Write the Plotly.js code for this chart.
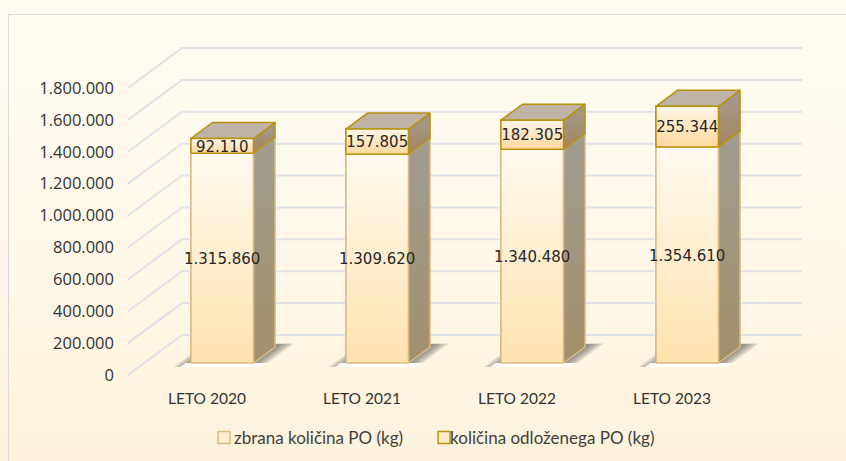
<!DOCTYPE html>
<html>
<head>
<meta charset="utf-8">
<script src="https://cdn.plot.ly/plotly-3.0.1.min.js"></script>
<style>
html,body{margin:0;padding:0;width:846px;height:461px;overflow:hidden;background:linear-gradient(180deg,#FFFBF1 0%,#FFF9EC 45%,#FEF2DC 100%);}
#frame{position:absolute;left:8px;top:14px;width:846px;height:461px;border:1.5px solid #DADBDD;box-sizing:border-box;}
#chart{position:absolute;left:0;top:0;width:846px;height:461px;}
</style>
</head>
<body>
<div id="frame"></div>
<div id="chart"></div>
<script>
const categories = ['LETO 2020','LETO 2021','LETO 2022','LETO 2023'];
const collected = [1315860,1309620,1340480,1354610];
const deposited = [92110,157805,182305,255344];
const yTicks = [0,200000,400000,600000,800000,1000000,1200000,1400000,1600000,1800000];
const collectedName = 'zbrana količina PO (kg)';
const depositedName = 'količina odloženega PO (kg)';

// pseudo-3D projection, expressed in axis units
const PX_X = 155, PX_Y = 287/1800000;
const DX = 54/PX_X, DV = 40/PX_Y;
const X = (x,z)=>x+z*DX, V=(v,z)=>v+z*DV;
const Z_F = 0.30, Z_B = 0.70, HW = 0.2016, SHIFT = -1/PX_X, LBL = -2/PX_Y;
const fmt = n=>String(n).replace(/\B(?=(\d{3})+$)/g,'.');
const idx = categories.map((_,i)=>i);

const poly = (pts,fill,grad,line,lw)=>({
  type:'scatter',mode:'lines',x:pts.map(p=>p[0]),y:pts.map(p=>p[1]),
  fill:'toself',fillcolor:fill||'rgba(0,0,0,0)',
  fillgradient:grad||undefined,
  line:{color:line||'rgba(0,0,0,0)',width:lw||0},
  hoverinfo:'skip',showlegend:false
});
const vgrad=(top,bot)=>({type:'vertical',colorscale:[[0,bot],[1,top]]});
const traces=[];

// real bars (data + legend)
traces.push({type:'bar',name:collectedName,x:idx.map(i=>X(i+SHIFT,Z_F)),y:collected,base:idx.map(()=>V(0,Z_F)),width:2*HW,
  marker:{color:'#FFEFD2',line:{color:'#DDBA84',width:1.5}},hoverinfo:'skip'});
traces.push({type:'bar',name:depositedName,x:idx.map(i=>X(i+SHIFT,Z_F)),y:deposited,base:collected.map(c=>V(c,Z_F)),width:2*HW,
  marker:{color:'#FFEBC8',line:{color:'#B8920F',width:1.5}},hoverinfo:'skip'});

// gridlines on side and back wall
const gx=[],gy=[];
yTicks.forEach(t=>{gx.push(X(-0.51,0),X(-0.51,1),X(3.49,1),null);gy.push(V(t,0),V(t,1),V(t,1),null);});
traces.push({type:'scatter',mode:'lines',x:gx,y:gy,line:{color:'#DFE1E6',width:2},hoverinfo:'skip',showlegend:false});

idx.forEach(i=>{
  const c=collected[i],d=deposited[i],t=c+d;
  const xl=i+SHIFT-HW,xr=i+SHIFT+HW;
  // floor shadow: soft edge built from stacked translucent layers
  const sl=i-0.285,sr=i+0.285;
  for(let k=0;k<8;k++){
    const a=sl+k*0.018,b=sr-k*0.018,zt=.79-k*0.006;
    traces.push(poly([[X(a,.2),V(0,.2)],[X(b,.2),V(0,.2)],[X(b,zt),V(0,zt)],[X(a,zt),V(0,zt)],[X(a,.2),V(0,.2)]],'rgba(80,80,80,0.16)'));
  }
  const wl=i-0.263;
  traces.push(poly([[X(wl+.02,.2),V(0,.2)],[X(wl+.55,.2),V(0,.2)],[X(wl+.55,.3),V(0,.3)],[X(wl+.02,.3),V(0,.3)],[X(wl+.02,.2),V(0,.2)]],'#FFFDF8'));
  // side faces
  traces.push(poly([[X(xr,Z_F),V(0,Z_F)],[X(xr,Z_B),V(0,Z_B)],[X(xr,Z_B),V(c,Z_B)],[X(xr,Z_F),V(c,Z_F)],[X(xr,Z_F),V(0,Z_F)]],null,
    vgrad('#A09C90','#A3906C'),'#DDBA84',1.5));
  traces.push(poly([[X(xr,Z_F),V(c,Z_F)],[X(xr,Z_B),V(c,Z_B)],[X(xr,Z_B),V(t,Z_B)],[X(xr,Z_F),V(t,Z_F)],[X(xr,Z_F),V(c,Z_F)]],null,
    vgrad('#A59B8E','#A4855F'),'#B8920F',1.5));
  // top face
  traces.push(poly([[X(xl,Z_F),V(t,Z_F)],[X(xr,Z_F),V(t,Z_F)],[X(xr,Z_B),V(t,Z_B)],[X(xl,Z_B),V(t,Z_B)],[X(xl,Z_F),V(t,Z_F)]],'#BEB3A5',null,'#B8920F',1.5));
  // front faces with gradient
  const fx=v=>[[X(xl,Z_F),V(v[0],Z_F)],[X(xr,Z_F),V(v[0],Z_F)],[X(xr,Z_F),V(v[1],Z_F)],[X(xl,Z_F),V(v[1],Z_F)],[X(xl,Z_F),V(v[0],Z_F)]];
  traces.push(poly(fx([0,c]),null,vgrad('#FFFAEF','#FFE3AF'),'#DDBA84',1.5));
  traces.push(poly(fx([c,t]),null,vgrad('#FFF6E6','#FFD89E'),'#B8920F',1.5));
});

// value labels
const lblFont={family:'"DejaVu Sans",sans-serif',size:15,color:'#262626'};
traces.push({type:'scatter',mode:'text',x:idx.map(i=>X(i+SHIFT,Z_F)),y:collected.map(c=>V(c/2,Z_F)+LBL),text:collected.map(fmt),textposition:'middle center',textfont:lblFont,hoverinfo:'skip',showlegend:false});
traces.push({type:'scatter',mode:'text',x:idx.map(i=>X(i+SHIFT,Z_F)),y:idx.map(i=>V(collected[i]+deposited[i]/2,Z_F)+LBL),text:deposited.map(fmt),textposition:'middle center',textfont:lblFont,hoverinfo:'skip',showlegend:false});

const L=120,T=30,B=385,W=846,H=461;
const layout={
  width:W,height:H,margin:{l:L,r:0,t:T,b:H-B,pad:0},autosize:false,
  paper_bgcolor:'rgba(0,0,0,0)',plot_bgcolor:'rgba(0,0,0,0)',
  barmode:'overlay',separators:',.',showlegend:true,
  xaxis:{range:[(L-207)/PX_X,(W-207)/PX_X],tickmode:'array',tickvals:idx,ticktext:categories,showgrid:false,zeroline:false,showline:false,ticks:'',
    tickfont:{family:'Lato,sans-serif',size:15.5,color:'#333333'},ticklabelstandoff:2,fixedrange:true},
  yaxis:{range:[(375-B)/PX_Y,(375-T)/PX_Y],tickmode:'array',tickvals:yTicks,tickformat:',d',showgrid:false,zeroline:false,showline:false,ticks:'',
    tickfont:{family:'"Open Sans",sans-serif',size:16.5,color:'#333333'},ticklabelstandoff:5,fixedrange:true},
  legend:{orientation:'h',x:(194-L)/(W-L),xanchor:'left',y:(B-420)/(B-T),yanchor:'top',font:{family:'Lato,sans-serif',size:17,color:'#404040'},bgcolor:'rgba(0,0,0,0)',traceorder:'normal'}
};
Plotly.newPlot('chart',traces,layout,{displayModeBar:false,staticPlot:true}).then(gd=>{
  // pull the legend swatches close to their text, and nudge the second entry
  gd.querySelectorAll('.legend .legendpoints').forEach((g,n)=>g.setAttribute('transform','translate('+(n?14:10)+',0)'));
  const second=gd.querySelectorAll('.legend .traces')[1];
  if(second) second.setAttribute('transform',second.getAttribute('transform')+' translate(2,0)');
});
</script>
</body>
</html>
